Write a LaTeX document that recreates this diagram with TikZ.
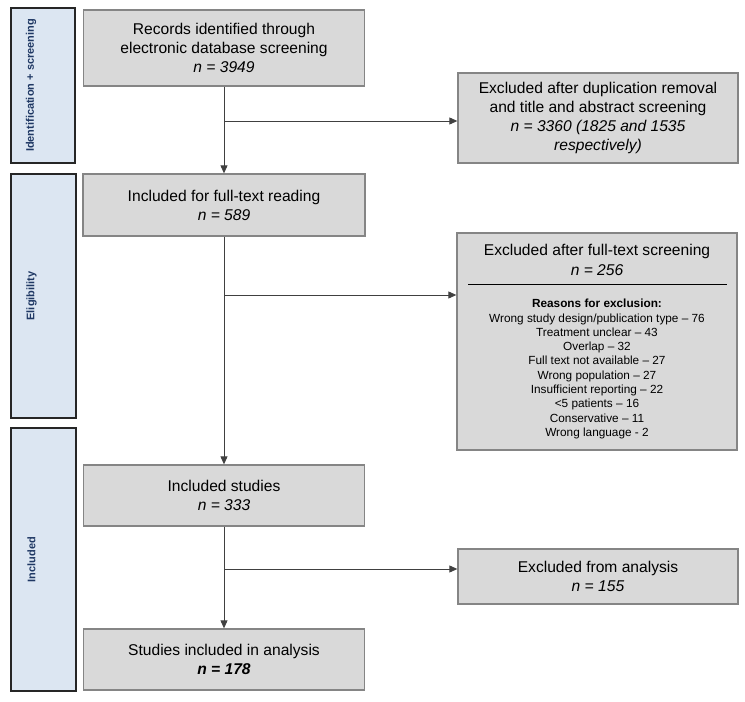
\documentclass[tikz,border=0pt]{standalone}
\usepackage{fontspec}
\setmainfont{Liberation Sans}
\usetikzlibrary{arrows.meta}
\definecolor{boxgray}{HTML}{D9D9D9}
\definecolor{boxedge}{HTML}{858585}
\definecolor{barblue}{HTML}{DCE6F2}
\definecolor{barnavy}{HTML}{1F3864}

\begin{document}
\begin{tikzpicture}[x=1pt, y=-1pt,
    stage/.style={draw=boxedge, line width=1.3pt, fill=boxgray, inner sep=0pt,
        align=center, font=\fontsize{15.6}{19}\selectfont},
    phase/.style={draw=black!85, line width=1.2pt, fill=barblue, inner sep=0pt},
    phaselabel/.style={rotate=90, inner sep=0pt, text=barnavy,
        font=\fontsize{11}{12}\selectfont\bfseries},
    flow/.style={draw=black!75, line width=0.9pt},
    flowarrow/.style={flow, -{Triangle[length=8pt,width=7pt]}}]
    \useasboundingbox (0,0) rectangle (745,702);

    % phase bars on the left
    \node[phase, minimum width=64pt, minimum height=155pt] (idbar) at (43,85.5) {};
    \node[phase, minimum width=65pt, minimum height=244pt] (elbar) at (43.5,296) {};
    \node[phase, minimum width=65pt, minimum height=263pt] (inbar) at (43.5,559.5) {};
    \node[phaselabel] (idlabel) at ([xshift=-12pt]idbar.center) {Identification + screening};
    \node[phaselabel] (ellabel) at ([xshift=-12pt]elbar.center) {Eligibility};
    \node[phaselabel] (inlabel) at ([xshift=-12pt]inbar.center) {Included};

    % main column
    \node[stage, minimum width=281pt, minimum height=76pt] (records) at (224,48)
        {Records identified through\\electronic database screening\\\textit{n = 3949}};
    \node[stage, minimum width=282pt, minimum height=62pt] (fulltext) at (224,205)
        {Included for full-text reading\\\textit{n = 589}};
    \node[stage, minimum width=281pt, minimum height=61pt] (included) at (224,495.5)
        {Included studies\\\textit{n = 333}};
    \node[stage, minimum width=281pt, minimum height=61pt] (analysis) at (224,659.5)
        {Studies included in analysis\\\textbf{\textit{n = 178}}};

    % exclusions on the right
    \node[stage, minimum width=280pt, minimum height=90pt] (exdup) at (598,118)
        {Excluded after duplication removal\\and title and abstract screening\\\textit{n = 3360 (1825 and 1535}\\\textit{respectively)}};
    \node[stage, minimum width=280pt, minimum height=217pt] (exfull) at (597,341.5) {};
    \node[align=center, inner sep=0pt, font=\fontsize{15.6}{19.5}\selectfont] (exfulltitle) at (597,260)
        {Excluded after full-text screening\\\textit{n = 256}};
    \draw[line width=1pt] (468,284) -- (727,284);
    \node[align=center, inner sep=0pt, font=\fontsize{11.8}{14.3}\selectfont] (reasons) at (597,369)
        {\textbf{Reasons for exclusion:}\\
         Wrong study design/publication type – 76\\
         Treatment unclear – 43\\
         Overlap – 32\\
         Full text not available – 27\\
         Wrong population – 27\\
         Insufficient reporting – 22\\
         <5 patients – 16\\
         Conservative – 11\\
         Wrong language - 2};
    \node[stage, minimum width=280pt, minimum height=55pt] (exanalysis) at (598,576.5)
        {Excluded from analysis\\\textit{n = 155}};

    % connectors
    \coordinate (split1) at (224,121);
    \coordinate (split2) at (224,295);
    \coordinate (split3) at (224,569);
    \draw[flowarrow] (records) -- (fulltext);
    \draw[flowarrow] (fulltext) -- (included);
    \draw[flowarrow] (included) -- (analysis);
    \draw[flowarrow] (split1) -- (split1 -| exdup.west);
    \draw[flowarrow] (split2) -- (split2 -| exfull.west);
    \draw[flowarrow] (split3) -- (split3 -| exanalysis.west);
\end{tikzpicture}
\end{document}
